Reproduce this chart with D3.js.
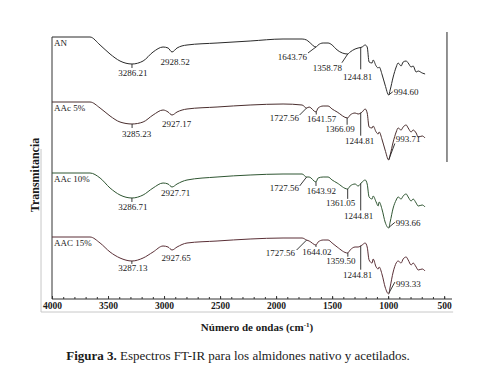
<!DOCTYPE html>
<html>
<head>
<meta charset="utf-8">
<script src="https://cdn.jsdelivr.net/npm/d3@7"></script>
<style>
  body { margin: 0; background: #fff; }
  svg text { font-family: "Liberation Serif", "Times New Roman", serif; fill: #1a1a1a; }
</style>
</head>
<body>
<div id="chart"></div>
<script>
// wavenumber grid (cm-1), shared by the four spectra
var wavenumbers = [4000, 3661, 3571, 3482, 3393, 3286, 3187, 3098, 3009, 2964, 2929, 2884, 2795, 2527, 2232,
  1938, 1768, 1728, 1705, 1644, 1625, 1580, 1536, 1500, 1455, 1362, 1339, 1295, 1268, 1232, 1205, 1187,
  1170, 1143, 1134, 1107, 1089, 1080, 1053, 1027, 995, 982, 955, 928, 911, 884, 866, 839, 821, 795, 777,
  750, 732, 696, 670];

var seriesNames = ["AN", "AAc 5%", "AAc 10%", "AAC 15%"];
// vertical offset of each stacked spectrum (a.u.)
var seriesOffsets = [262, 197, 126, 62];

// transmittance relative to each baseline (a.u.)
var anValues = [0, 0, -8, -17, -24, -27, -24, -15, -10, -11, -15, -11, -8, -6, -4, -2, -2, -3, -5, -10, -8, -6,
  -6, -8, -13, -17, -15, -12, -11, -10, -8, -10, -25, -26, -23, -29, -31, -30, -38, -48, -58, -53, -40, -30,
  -26, -29, -25, -24, -26, -30, -29, -35, -34, -36, -37];
var aac5Values = [0, 0, -6, -14, -20, -22, -20, -13, -8, -10, -13, -10, -7, -5, -3, -2, -3, -6, -5, -10, -6, -4,
  -4, -7, -10, -16, -13, -11, -12, -10, -7, -11, -25, -26, -24, -30, -32, -30, -38, -48, -58, -53, -40, -30,
  -26, -28, -25, -23, -26, -30, -28, -31, -35, -34, -36];
var aac10Values = [0, 0, -5, -15, -22, -25, -22, -15, -10, -11, -14, -11, -7, -4, -2, -1, -1, -4, -4, -9, -5, -4,
  -4, -7, -10, -16, -13, -11, -13, -9, -7, -11, -24, -26, -23, -29, -33, -29, -37, -49, -55, -49, -35, -27,
  -24, -26, -23, -21, -24, -28, -26, -30, -33, -32, -34];
var aac15Values = [0, 0, -6, -15, -21, -24, -21, -15, -9, -10, -13, -10, -6, -4, -2, -1, -1, -3, -4, -8, -5, -3,
  -3, -6, -10, -16, -13, -10, -10, -8, -6, -10, -23, -26, -22, -30, -32, -30, -38, -50, -57, -50, -35, -26,
  -24, -26, -22, -20, -23, -28, -26, -30, -33, -32, -34];

// marked bands per spectrum (cm-1)
var anPeaks = [3286.21, 2928.52, 1643.76, 1358.78, 1244.81, 994.60];
var aac5Peaks = [3285.23, 2927.17, 1727.56, 1641.57, 1366.09, 1244.81, 993.71];
var aac10Peaks = [3286.71, 2927.71, 1727.56, 1643.92, 1361.05, 1244.81, 993.66];
var aac15Peaks = [3287.13, 2927.65, 1727.56, 1644.02, 1359.50, 1244.81, 993.33];

var xTicks = [4000, 3500, 3000, 2500, 2000, 1500, 1000, 500];

// ---- layout / style ----
var W = 499, H = 392;
var colors = ["#2a2a2a", "#4a2e2e", "#2f5632", "#5a2f36"];
// label placement for each peak: [dx, dy, anchor, leaderDx, leaderDy]
var peakLayout = [
  [[1, 9, "middle", 0, 4], [3, 10, "middle"], [-9, 10, "end", -8, 6], [-6, 14, "end", -6, 9],
   [-3, 29, "middle", 0, 22], [5, -3, "start", 4, -3]],
  [[4.5, 10, "middle", 0, 4], [4.5, 9, "middle"], [-7.5, 10, "end", -7, 7], [5.3, 7, "middle", 0, 3],
   [-7, 11, "middle", 0, 7], [-1, 28, "middle", 0, 23], [7, -21, "start", 6, -16]],
  [[1, 9, "middle", 0, 4], [3.5, 6, "middle"], [-7.5, 11, "end", -7, 9], [5.5, 9, "middle", 0, 4],
   [-7, 14, "middle", 0, 10], [-2, 32, "middle", 0, 27], [7, -5, "start", 6, -5]],
  [[1, 7, "middle", 0, 3], [4, 8, "middle"], [-11.5, 13, "end", -10, 10], [1, 7, "middle", 0, 2],
   [-7, 8, "middle", 0, 4], [-3, 29, "middle", 0, 24], [7, -9, "start", 6, -11]]
];

var allValues = [anValues, aac5Values, aac10Values, aac15Values];
var allPeaks = [anPeaks, aac5Peaks, aac10Peaks, aac15Peaks];

var svg = d3.select("#chart").append("svg")
    .attr("width", W)
    .attr("height", H);

var x = d3.scaleLinear().domain([4000, 430]).range([52, 452]);
var y = d3.scaleLinear().domain([0, 262]).range([299, 37]);

// faint outer frame (left + bottom) and the dark bar on the right
svg.append("path")
    .attr("d", "M" + x(4098) + "," + y(150) + "V" + y(-13) + "H" + x(420))
    .attr("fill", "none")
    .attr("stroke", "#c8c8c8")
    .attr("stroke-width", 1);
svg.append("line")
    .attr("x1", x(475)).attr("x2", x(475))
    .attr("y1", y(267)).attr("y2", y(137))
    .attr("stroke", "#6e6e6e")
    .attr("stroke-width", 1.5);

// minor ticks every 100 cm-1
svg.append("g")
    .attr("class", "axis minor")
    .attr("transform", "translate(0," + y(0) + ")")
    .call(d3.axisBottom(x).tickValues(d3.range(500, 4001, 100)).tickSize(-2).tickFormat(""))
    .call(function (g) { g.select(".domain").remove(); })
    .selectAll("line").attr("stroke", "#333");

var xAxis = svg.append("g")
    .attr("class", "axis axis--x")
    .attr("transform", "translate(0," + y(0) + ")")
    .call(d3.axisBottom(x).tickValues(xTicks).tickSize(-3).tickPadding(3).tickFormat(d3.format("d")));
xAxis.select(".domain").attr("stroke", "#333").attr("d", "M" + x(4000) + ",0H" + x(430));
xAxis.selectAll(".tick line").attr("stroke", "#333");
xAxis.selectAll(".tick text")
    .style("font-family", "'Liberation Serif', serif")
    .style("font-size", "9.5px")
    .style("font-weight", "bold")
    .attr("fill", "#333");

// y axis: bare line only
svg.append("line")
    .attr("x1", x(4000)).attr("x2", x(4000))
    .attr("y1", y(0)).attr("y2", y(262))
    .attr("stroke", "#333");

var line = d3.line()
    .x(function (d) { return x(d[0]); })
    .y(function (d) { return y(d[1]); })
    .curve(d3.curveMonotoneX);

function valueAt(vals, w) {
  for (var i = 0; i < wavenumbers.length - 1; i++) {
    var a = wavenumbers[i], b = wavenumbers[i + 1];
    if (w <= a && w >= b) {
      var t = (a - w) / (a - b);
      return vals[i] + t * (vals[i + 1] - vals[i]);
    }
  }
  return vals[vals.length - 1];
}

var fmt = d3.format(".2f");

seriesNames.forEach(function (name, s) {
  var off = seriesOffsets[s];
  var data = wavenumbers.map(function (w, i) { return [w, off + allValues[s][i]]; });

  svg.append("path")
      .datum(data)
      .attr("fill", "none")
      .attr("stroke", colors[s])
      .attr("stroke-width", 1)
      .attr("d", line);

  svg.append("text")
      .attr("x", x(4000) + 2)
      .attr("y", y(off) + 6)
      .attr("dy", "0.35em")
      .style("font-size", "9px")
      .text(name);

  var g = svg.append("g").attr("class", "peaks");
  allPeaks[s].forEach(function (w, k) {
    var lay = peakLayout[s][k];
    var px = x(w), py = y(off + valueAt(allValues[s], w));
    if (lay[3] !== undefined) {
      g.append("line")
          .attr("x1", px).attr("y1", py)
          .attr("x2", px + lay[3]).attr("y2", py + lay[4])
          .attr("stroke", "#222")
          .attr("stroke-width", 0.9);
    }
    g.append("text")
        .attr("x", px + lay[0])
        .attr("y", py + lay[1])
        .attr("dy", "0.35em")
        .attr("text-anchor", lay[2])
        .style("font-size", "9px")
        .text(fmt(w));
  });
});

// axis titles
svg.append("text")
    .attr("transform", "translate(39," + y(124) + ") rotate(-90)")
    .attr("text-anchor", "middle")
    .style("font-size", "12px")
    .style("font-weight", "bold")
    .text("Transmitancia");

var xt = svg.append("text")
    .attr("x", 257)
    .attr("y", 331)
    .attr("text-anchor", "middle")
    .style("font-size", "11px")
    .style("font-weight", "bold");
xt.append("tspan").text("Número de ondas (cm");
xt.append("tspan").attr("dy", -4).style("font-size", "7px").text("-1");
xt.append("tspan").attr("dy", 4).text(")");

var cap = svg.append("text")
    .attr("x", 238)
    .attr("y", 360)
    .attr("text-anchor", "middle")
    .style("font-size", "13px");
cap.append("tspan").style("font-weight", "bold").text("Figura 3.");
cap.append("tspan").text(" Espectros FT-IR para los almidones nativo y acetilados.");
</script>
</body>
</html>
